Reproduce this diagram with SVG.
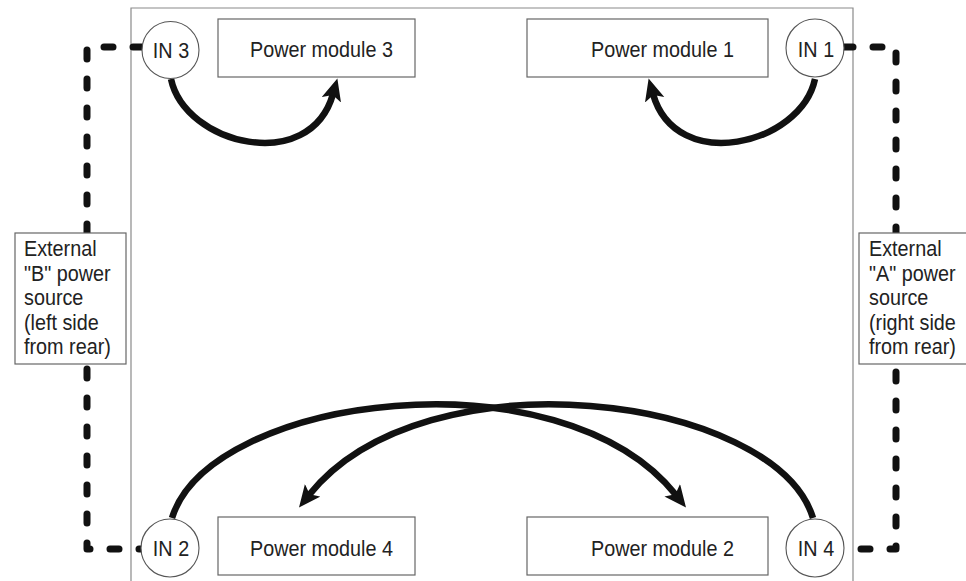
<svg xmlns="http://www.w3.org/2000/svg" width="966" height="581" viewBox="0 0 966 581">
<defs>
<style>
.frame{fill:none;stroke:#8a8a8a;stroke-width:1.2}
.box{fill:#fff;stroke:#666;stroke-width:1.2}
.circ{fill:#fff;stroke:#555;stroke-width:1.1}
.t{font-family:"Liberation Sans",Arial,sans-serif;font-size:22px;fill:#222}
.dash{fill:none;stroke:#111;stroke-width:7;stroke-linecap:round;stroke-linejoin:round;stroke-dasharray:9 20}
.arc{fill:none;stroke:#111;stroke-width:6.5;marker-end:url(#ah)}
</style>
<marker id="ah" markerUnits="userSpaceOnUse" markerWidth="26" markerHeight="22" refX="6" refY="10" orient="auto" viewBox="0 0 26 22">
<path d="M0,0 L22,10 L0,20 L5,10 z" fill="#111"/>
</marker>
</defs>
<g id="frame">
<path class="frame" d="M131,581 V8 H853 V581"/>
</g>
<g id="connectors">
<path class="dash" d="M142,47 H87 V549 H142"/>
<path class="dash" d="M844,47 H896 V549 H844"/>
<path class="arc" d="M171,79 C185,145 310,175 333,94"/>
<path class="arc" d="M815,79 C801,145 676,175 653,94"/>
<path class="arc" d="M172,518 C210,395 560,350 676,495"/>
<path class="arc" d="M813,518 C775,395 425,350 309,495"/>
</g>
<g id="pm3"><rect class="box" x="218" y="19" width="197" height="58"/><text class="t" transform="translate(250,57) scale(0.9,1)">Power module 3</text></g>
<g id="pm1"><rect class="box" x="527" y="19" width="241" height="58"/><text class="t" transform="translate(591,57) scale(0.9,1)">Power module 1</text></g>
<g id="pm4"><rect class="box" x="218" y="517" width="197" height="58"/><text class="t" transform="translate(250,556) scale(0.9,1)">Power module 4</text></g>
<g id="pm2"><rect class="box" x="527" y="517" width="241" height="58"/><text class="t" transform="translate(591,556) scale(0.9,1)">Power module 2</text></g>
<g id="in3"><circle class="circ" cx="170.5" cy="50" r="28.5"/><text class="t" text-anchor="middle" transform="translate(171,58) scale(0.9,1)">IN 3</text></g>
<g id="in1"><circle class="circ" cx="815" cy="48" r="29"/><text class="t" text-anchor="middle" transform="translate(816,57) scale(0.9,1)">IN 1</text></g>
<g id="in2"><circle class="circ" cx="170" cy="548" r="29"/><text class="t" text-anchor="middle" transform="translate(171,556) scale(0.9,1)">IN 2</text></g>
<g id="in4"><circle class="circ" cx="815" cy="548" r="29"/><text class="t" text-anchor="middle" transform="translate(816,556) scale(0.9,1)">IN 4</text></g>
<g id="srcB"><rect class="box" x="15" y="233" width="111" height="131"/>
<text class="t" transform="translate(24,0) scale(0.9,1)"><tspan x="0" y="256">External</tspan><tspan x="0" y="281">"B" power</tspan><tspan x="0" y="305">source</tspan><tspan x="0" y="330">(left side</tspan><tspan x="0" y="354">from rear)</tspan></text></g>
<g id="srcA"><rect class="box" x="859" y="233" width="120" height="131"/>
<text class="t" transform="translate(869,0) scale(0.9,1)"><tspan x="0" y="256">External</tspan><tspan x="0" y="281">"A" power</tspan><tspan x="0" y="305">source</tspan><tspan x="0" y="330">(right side</tspan><tspan x="0" y="354">from rear)</tspan></text></g>
</svg>
